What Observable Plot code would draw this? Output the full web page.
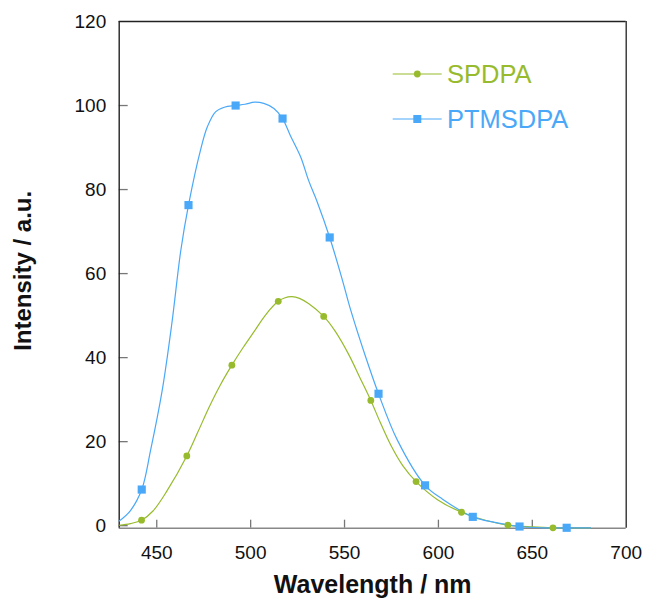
<!DOCTYPE html>
<html>
<head>
<meta charset="utf-8">
<script src="https://cdn.jsdelivr.net/npm/d3@7"></script>
<script src="https://cdn.jsdelivr.net/npm/@observablehq/plot@0.6"></script>
<style>
  html, body { margin: 0; padding: 0; background: #fff; }
  #chart { position: relative; width: 646px; height: 603px; }
</style>
</head>
<body>
<div id="chart"></div>
<script>
// ---- data ----
const seriesNames = ["SPDPA", "PTMSDPA"];
const seriesColors = ["#97bb2c", "#4aa8f8"];

// smooth curve samples (wavelength nm, intensity a.u.)
const spdpaCurveX = [430, 436, 441.9, 448, 455.6, 466, 472, 478, 484, 490, 496, 502, 508, 514.7, 518, 522, 526, 531, 538.9, 545, 552.4, 558, 564, 569, 574.6, 581, 588.1, 599.5, 612.3, 625, 637, 650, 661, 681];
const spdpaCurveY = [0.1, 0.5, 1.3, 3.5, 8.4, 16.6, 22.4, 28.3, 33.6, 38.2, 42.4, 46.3, 50.2, 53.4, 54.2, 54.5, 54.1, 52.8, 49.8, 46.3, 40.6, 35.4, 29.8, 24.6, 19.2, 14.3, 10.5, 6.2, 3.2, 1.3, 0.15, -0.3, -0.5, -0.5];
const ptmsCurveX = [430, 436, 442, 446.7, 452.9, 458, 462.8, 466.9, 473.3, 477, 481.3, 486, 492, 497, 502.1, 507, 512.4, 517, 521, 526.6, 531, 535.5, 542.1, 548.9, 553.3, 561.3, 568.1, 578.2, 592.9, 602.2, 618.3, 630, 643.2, 655, 668.3, 681];
const ptmsCurveY = [1.1, 3.6, 8.6, 17.9, 32.2, 48, 65.5, 76.3, 89.4, 95, 98.5, 99.6, 100, 100.3, 100.8, 100.5, 99.3, 96.9, 93, 87.8, 82, 77, 68.6, 58.4, 51.3, 40.1, 31.4, 20.3, 9.6, 6.3, 2.1, 0.8, -0.2, -0.5, -0.5, -0.5];

// marker points
const spdpaMarkX = [441.9, 466, 490, 514.7, 538.9, 564, 588.1, 612.3, 637, 661];
const spdpaMarkY = [1.3, 16.6, 38.2, 53.4, 49.8, 29.8, 10.5, 3.2, 0.15, -0.5];
const ptmsMarkX = [442, 466.9, 492, 517, 542.1, 568.1, 592.9, 618.3, 643.2, 668.3];
const ptmsMarkY = [8.6, 76.3, 100, 96.9, 68.6, 31.4, 9.6, 2.1, -0.2, -0.5];

const xTicks = [450, 500, 550, 600, 650, 700];
const yTicks = [0, 20, 40, 60, 80, 100, 120];
const xDomain = [430, 700];
const yDomain = [-0.6, 120];
const xTitle = "Wavelength / nm";
const yTitle = "Intensity / a.u.";

// ---- build tables ----
const zip = (xs, ys) => xs.map((x, i) => ({x, y: ys[i]}));
const spdpaCurve = zip(spdpaCurveX, spdpaCurveY);
const ptmsCurve = zip(ptmsCurveX, ptmsCurveY);
const spdpaMarks = zip(spdpaMarkX, spdpaMarkY);
const ptmsMarks = zip(ptmsMarkX, ptmsMarkY);

const W = 646, H = 603;
const mL = 118.7, mR = 20.3, mT = 21, mB = 75.3;
const plotW = W - mL - mR, plotH = H - mT - mB;
const font = "'Liberation Sans', Arial, Helvetica, sans-serif";

const chart = Plot.plot({
  width: W,
  height: H,
  marginLeft: mL,
  marginRight: mR,
  marginTop: mT,
  marginBottom: mB,
  style: {fontFamily: font, background: "#fff", color: "#111"},
  x: {domain: xDomain},
  y: {domain: yDomain},
  marks: [
    // inward tick marks
    Plot.tickX(xTicks.filter(d => d < xDomain[1]), {x: d => d, stroke: "#777", strokeWidth: 1.3, insetTop: plotH - 8}),
    Plot.tickY(yTicks.filter(d => d < 120), {y: d => d, stroke: "#777", strokeWidth: 1.3, insetRight: plotW - 9}),
    // frame
    Plot.ruleY([yDomain[0]], {stroke: "#888", strokeWidth: 1.6}),
    Plot.ruleY([yDomain[1]], {stroke: "#222", strokeWidth: 1.3}),
    Plot.ruleX([xDomain[0]], {stroke: "#222", strokeWidth: 1.4}),
    Plot.ruleX([xDomain[1]], {stroke: "#222", strokeWidth: 1.3}),
    // axes labels
    Plot.axisX(xTicks, {tickSize: 0, tickPadding: 17, fontSize: 19, label: null, fill: "#111"}),
    Plot.axisY(yTicks, {tickSize: 0, tickPadding: 13, fontSize: 19, label: null, fill: "#111"}),
    // curves
    Plot.line(spdpaCurve, {x: "x", y: "y", stroke: seriesColors[0], strokeWidth: 1.2, curve: "catmull-rom"}),
    Plot.line(ptmsCurve, {x: "x", y: "y", stroke: seriesColors[1], strokeWidth: 1.2, curve: "catmull-rom"}),
    Plot.dot(spdpaMarks, {x: "x", y: "y", fill: seriesColors[0], r: 3.4, symbol: "circle"}),
    Plot.dot(ptmsMarks, {x: "x", y: "y", fill: seriesColors[1], r: 4.6, symbol: "square"}),
    // axis titles
    Plot.text([xTitle], {text: d => d, frameAnchor: "bottom", textAnchor: "middle", lineAnchor: "middle", dy: 57, fontSize: 25, fontWeight: "bold", fill: "#111"}),
    Plot.text([yTitle], {text: d => d, frameAnchor: "left", textAnchor: "middle", lineAnchor: "middle", dx: -96, dy: -4, rotate: -90, fontSize: 24, fontWeight: "bold", fill: "#111"})
  ]
});

document.getElementById("chart").appendChild(chart);

// legend inside the plot area (upper right)
const svg = d3.select(chart);
const legend = svg.append("g").attr("font-family", font).attr("text-anchor", "start");
const legendRows = [{y: 74, marker: "circle"}, {y: 119, marker: "square"}];
seriesNames.forEach((name, i) => {
  const row = legendRows[i];
  const g = legend.append("g").attr("transform", `translate(0,${row.y})`);
  g.append("line").attr("x1", 392.7).attr("x2", 441.7).attr("y1", 0).attr("y2", 0)
    .attr("stroke", seriesColors[i]).attr("stroke-width", 1.2);
  if (row.marker === "circle") {
    g.append("circle").attr("cx", 417.3).attr("cy", 0).attr("r", 3.4).attr("fill", seriesColors[i]);
  } else {
    g.append("rect").attr("x", 417.3 - 4).attr("y", -4).attr("width", 8).attr("height", 8).attr("fill", seriesColors[i]);
  }
  g.append("text").attr("x", 447).attr("y", 9.3).attr("font-size", 25.5)
    .attr("text-anchor", "start")
    .attr("fill", seriesColors[i]).text(name);
});
</script>
</body>
</html>
